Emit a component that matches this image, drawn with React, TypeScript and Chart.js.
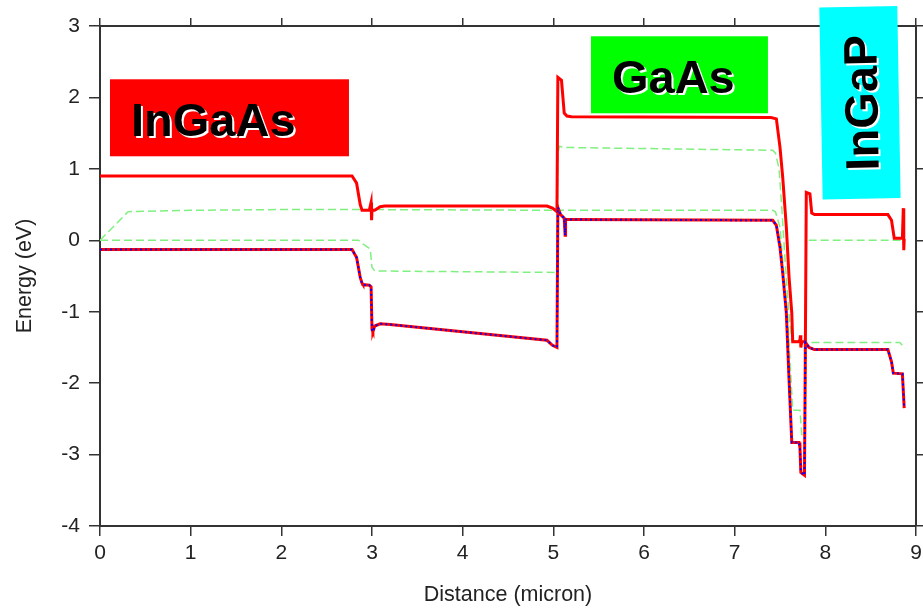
import React, { useEffect, useRef } from "react";
import { Chart, registerables } from "chart.js";

Chart.register(...registerables);

// ---- Axis ranges / ticks ----
const xRange = [0, 9];
const yRange = [-4, 3];
const xTitle = "Distance (micron)";
const yTitle = "Energy (eV)";

// ---- Conduction band (red solid) ----
const ecX = [0, 2.78, 2.83, 2.87, 2.89, 2.97, 2.99, 2.995, 3.0, 3.03, 3.09, 3.14, 4.93, 4.99, 5.04, 5.05, 5.09, 5.12, 5.15, 5.2, 7.4, 7.46, 7.5, 7.53, 7.57, 7.6, 7.63, 7.64, 7.7, 7.72, 7.725, 7.73, 7.74, 7.78, 7.79, 7.83, 7.85, 7.88, 8.69, 8.73, 8.76, 8.85, 8.86, 8.865, 8.87];
const ecY = [0.9, 0.9, 0.8, 0.5, 0.42, 0.42, 0.53, 0.28, 0.42, 0.42, 0.47, 0.48, 0.48, 0.45, 0.4, 2.28, 2.24, 1.78, 1.74, 1.73, 1.72, 1.7, 1.3, 0.88, 0.18, -0.52, -1.02, -1.42, -1.42, -1.4, -1.33, -1.5, -1.42, -1.42, 0.67, 0.65, 0.38, 0.36, 0.36, 0.28, 0.03, 0.03, 0.45, -0.14, 0.02];

// ---- Valence band (red solid with blue dots) ----
const evX = [0, 2.78, 2.83, 2.87, 2.89, 2.9, 2.97, 2.99, 3.0, 3.01, 3.03, 3.09, 3.2, 4.93, 4.99, 5.04, 5.05, 5.08, 5.12, 5.13, 5.135, 5.15, 5.2, 7.42, 7.46, 7.5, 7.53, 7.57, 7.6, 7.63, 7.71, 7.72, 7.73, 7.77, 7.78, 7.82, 7.88, 8.69, 8.73, 8.75, 8.85, 8.87];
const evY = [-0.13, -0.13, -0.24, -0.52, -0.6, -0.62, -0.63, -0.65, -1.25, -1.28, -1.2, -1.17, -1.18, -1.4, -1.47, -1.5, 0.46, 0.36, 0.31, 0.07, 0.29, 0.29, 0.29, 0.28, 0.21, -0.1, -0.46, -1.02, -1.96, -2.83, -2.83, -2.9, -3.25, -3.29, -1.43, -1.5, -1.53, -1.53, -1.7, -1.86, -1.87, -2.35];

// ---- Green dashed level A ----
const gaX = [0, 0.31, 1.0, 2.0, 3.0, 5.0, 7.42, 7.45, 7.5, 7.53, 7.58, 7.61, 7.64, 7.72, 7.74, 7.78, 7.79, 8.82, 8.88];
const gaY = [0, 0.4, 0.42, 0.43, 0.43, 0.42, 0.42, 0.4, 0.18, -0.28, -0.98, -1.68, -2.38, -2.38, -2.72, -2.72, -1.43, -1.43, -1.51];

// ---- Green dashed level B ----
const gbX = [0, 2.85, 2.9, 2.98, 3.0, 3.03, 5.04, 5.05, 5.07, 5.1, 7.42, 7.45, 7.49, 7.52, 7.56, 7.6, 7.63, 7.72, 7.78, 7.79, 8.86];
const gbY = [0, 0, -0.05, -0.12, -0.38, -0.43, -0.45, 1.22, 1.32, 1.3, 1.26, 1.22, 1.0, 0.45, -0.35, -1.05, -1.4, -1.42, -1.42, 0, 0];

// ---- Region labels ----
const regionNames = ["InGaAs", "GaAs", "InGaP"];

const FONT = '"Liberation Sans", Arial, Helvetica, sans-serif';
const AXIS = "#333333";
const TEXT = "#222222";

function toPoints(xs: number[], ys: number[]) {
  return xs.map((x, i) => ({ x, y: ys[i] }));
}

const regionLabelPlugin = {
  id: "regionLabels",
  afterDraw(chart: any) {
    const ctx = chart.ctx as CanvasRenderingContext2D;
    const sx = chart.scales.x;
    const sy = chart.scales.y;
    const px = (v: number) => sx.getPixelForValue(v);
    const py = (v: number) => sy.getPixelForValue(v);
    ctx.save();
    ctx.font = `bold 47px ${FONT}`;

    const flat = (name: string, x0: number, x1: number, y0: number, y1: number, fill: string) => {
      const l = px(x0), r = px(x1), t = py(y0), b = py(y1);
      ctx.save();
      ctx.fillStyle = fill;
      ctx.fillRect(l, t, r - l, b - t);
      ctx.shadowColor = "#ffffff";
      ctx.shadowOffsetX = 2;
      ctx.shadowOffsetY = 2;
      ctx.shadowBlur = 0;
      ctx.fillStyle = "#000000";
      ctx.textAlign = "left";
      ctx.textBaseline = "alphabetic";
      ctx.fillText(name, l + 21, t + 57);
      ctx.restore();
    };
    flat(regionNames[0], 0.11, 2.746, 2.254, 1.176, "#ff0000");
    flat(regionNames[1], 5.415, 7.367, 2.856, 1.778, "#00ff00");

    // rotated InGaP label
    const cx = px(8.382), cy = py(1.925);
    const w = px(8.382 + 0.43) - px(8.382 - 0.43);
    const h = py(1.925 - 1.344) - py(1.925 + 1.344);
    ctx.save();
    ctx.translate(cx, cy);
    ctx.rotate((-1 * Math.PI) / 180);
    ctx.fillStyle = "#00ffff";
    ctx.fillRect(-w / 2, -h / 2, w, h);
    ctx.rotate(-Math.PI / 2);
    ctx.shadowColor = "#ffffff";
    ctx.shadowOffsetX = 2;
    ctx.shadowOffsetY = 2;
    ctx.shadowBlur = 0;
    ctx.fillStyle = "#000000";
    ctx.textAlign = "center";
    ctx.textBaseline = "alphabetic";
    ctx.fillText(regionNames[2], 0, 17.5);
    ctx.restore();

    ctx.restore();
  },
};

export default function App() {
  const ref = useRef<HTMLCanvasElement | null>(null);

  useEffect(() => {
    const canvas = ref.current;
    if (!canvas) return;
    const tickFont = { family: FONT, size: 21 };
    const titleFont = { family: FONT, size: 21.5 };
    const chart = new Chart(canvas, {
      type: "line",
      data: {
        datasets: [
          {
            label: "Ev (dots)",
            data: toPoints(evX, evY),
            borderColor: "#0000ff",
            borderWidth: 2,
            borderDash: [2, 3],
            pointRadius: 0,
            xAxisID: "x",
            yAxisID: "y",
          },
          {
            label: "Ev",
            data: toPoints(evX, evY),
            borderColor: "#ff0000",
            borderWidth: 3,
            pointRadius: 0,
            xAxisID: "x",
            yAxisID: "y",
          },
          {
            label: "Ec",
            data: toPoints(ecX, ecY),
            borderColor: "#ff0000",
            borderWidth: 3,
            pointRadius: 0,
            xAxisID: "x",
            yAxisID: "y",
          },
          {
            label: "Level A",
            data: toPoints(gaX, gaY),
            borderColor: "#80f080",
            borderWidth: 1.5,
            borderDash: [8, 4],
            pointRadius: 0,
            xAxisID: "x",
            yAxisID: "y",
          },
          {
            label: "Level B",
            data: toPoints(gbX, gbY),
            borderColor: "#80f080",
            borderWidth: 1.5,
            borderDash: [8, 4],
            pointRadius: 0,
            xAxisID: "x",
            yAxisID: "y",
          },
        ],
      },
      options: {
        animation: false,
        responsive: false,
        devicePixelRatio: 1,
        plugins: { legend: { display: false }, tooltip: { enabled: false } },
        elements: { line: { tension: 0 }, point: { radius: 0 } },
        scales: {
          x: {
            type: "linear",
            position: "bottom",
            min: xRange[0],
            max: xRange[1],
            ticks: { stepSize: 1, color: TEXT, font: tickFont, padding: 5, maxRotation: 0, autoSkip: false },
            grid: { drawOnChartArea: false, drawTicks: true, tickLength: 10, color: AXIS, lineWidth: 1.5 },
            border: { display: true, color: AXIS, width: 2 },
            title: { display: true, text: xTitle, color: TEXT, font: titleFont, padding: { top: 0, bottom: 0 } },
            afterFit: (s: any) => { s.height = 82; s.paddingLeft = 0; s.paddingRight = 0; },
          },
          y: {
            type: "linear",
            position: "left",
            min: yRange[0],
            max: yRange[1],
            ticks: { stepSize: 1, color: TEXT, font: tickFont, padding: 9 },
            grid: { drawOnChartArea: false, drawTicks: true, tickLength: 11, color: AXIS, lineWidth: 1.5 },
            border: { display: true, color: AXIS, width: 2 },
            title: { display: true, text: yTitle, color: TEXT, font: titleFont, padding: { top: 12, bottom: 0 } },
            afterFit: (s: any) => { s.width = 100; s.paddingTop = 0; s.paddingBottom = 0; },
          },
          x2: {
            type: "linear",
            position: "top",
            min: xRange[0],
            max: xRange[1],
            ticks: { stepSize: 1, display: false },
            grid: { drawOnChartArea: false, drawTicks: true, tickLength: 8, color: AXIS, lineWidth: 1.5 },
            border: { display: true, color: AXIS, width: 2 },
            afterFit: (s: any) => { s.height = 26; s.paddingLeft = 0; s.paddingRight = 0; },
          },
          y2: {
            type: "linear",
            position: "right",
            min: yRange[0],
            max: yRange[1],
            ticks: { stepSize: 1, display: false },
            grid: { drawOnChartArea: false, drawTicks: true, tickLength: 7, color: AXIS, lineWidth: 1.5 },
            border: { display: true, color: AXIS, width: 2 },
            afterFit: (s: any) => { s.width = 7; s.paddingTop = 0; s.paddingBottom = 0; },
          },
        },
      },
      plugins: [regionLabelPlugin],
    } as any);
    return () => chart.destroy();
  }, []);

  return (
    <div style={{ position: "fixed", left: 0, top: 0, width: 923, height: 608, background: "#ffffff" }}>
      <canvas ref={ref} width={923} height={608} style={{ display: "block", width: 923, height: 608 }} />
    </div>
  );
}
